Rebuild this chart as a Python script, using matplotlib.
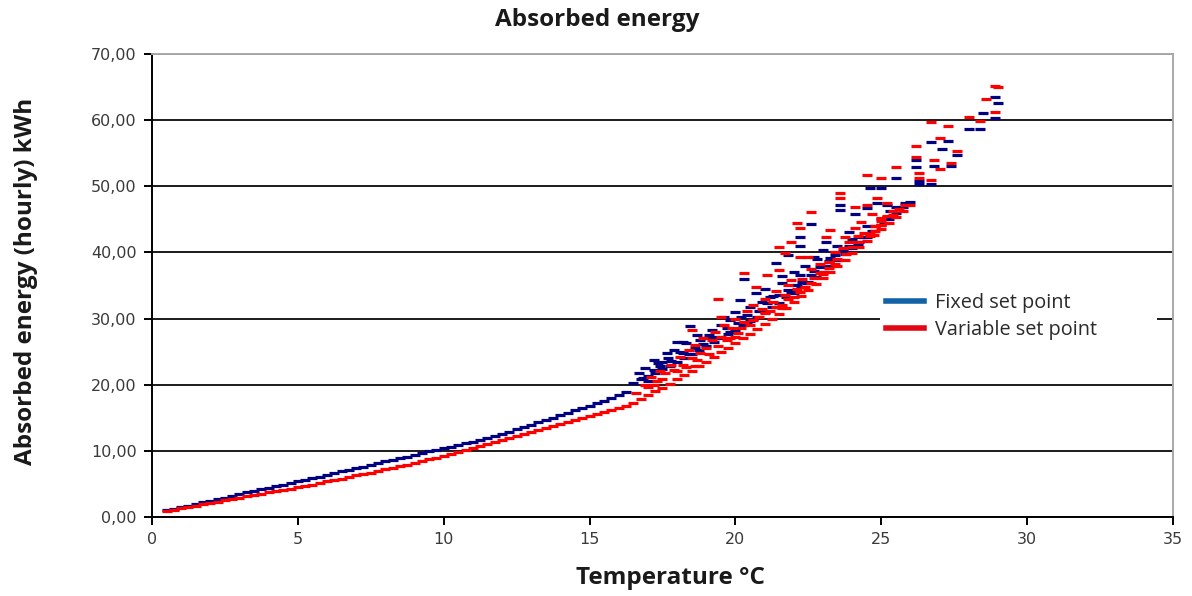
# -*- coding: utf-8 -*-

import matplotlib
matplotlib.use('Agg')
import matplotlib.pyplot as plt
from matplotlib.lines import Line2D
from matplotlib.ticker import FuncFormatter, MultipleLocator

# ---- data (temperature in °C, energy in kWh) ----

# lower smooth part, fixed set point
fixed_low_t = [0.5, 0.75, 1.0, 1.25, 1.5, 1.75, 2.0, 2.25, 2.5, 2.75, 3.0, 3.25, 3.5, 3.75,
               4.0, 4.25, 4.5, 4.75, 5.0, 5.25, 5.5, 5.75, 6.0, 6.25, 6.5, 6.75, 7.0, 7.25,
               7.5, 7.75, 8.0, 8.25, 8.5, 8.75, 9.0, 9.25, 9.5, 9.75, 10.0, 10.25, 10.5, 10.75,
               11.0, 11.25, 11.5, 11.75, 12.0, 12.25, 12.5, 12.75, 13.0, 13.25, 13.5, 13.75,
               14.0, 14.25, 14.5, 14.75, 15.0, 15.25, 15.5, 15.75, 16.0, 16.25]
fixed_low_e = [1.0, 1.2, 1.5, 1.7, 2.0, 2.2, 2.4, 2.7, 2.9, 3.2, 3.4, 3.7, 3.9, 4.2,
               4.4, 4.7, 4.9, 5.2, 5.4, 5.6, 5.9, 6.1, 6.4, 6.6, 6.9, 7.1, 7.4, 7.6,
               7.9, 8.1, 8.4, 8.6, 8.9, 9.1, 9.4, 9.6, 9.9, 10.1, 10.4, 10.6, 10.9, 11.2,
               11.4, 11.7, 12.0, 12.3, 12.6, 12.9, 13.3, 13.6, 13.9, 14.3, 14.6, 15.0,
               15.4, 15.7, 16.1, 16.5, 16.8, 17.2, 17.6, 18.0, 18.4, 18.9]

# lower edge of the steep part, fixed set point
fixed_edge_t = [16.5, 16.75, 17.0, 17.25, 17.5, 17.75, 18.0, 18.25, 18.5, 18.75, 19.0, 19.25,
                19.5, 19.75, 20.0, 20.25, 20.5, 20.75, 21.0, 21.25, 21.5, 21.75, 22.0, 22.25,
                22.5, 22.75, 23.0, 23.25, 23.5, 23.75, 24.0, 24.25, 24.5, 24.75, 25.0, 25.25,
                25.5, 25.75, 26.0]
fixed_edge_e = [20.2, 20.8, 21.3, 21.8, 22.3, 22.8, 23.4, 24.0, 24.6, 25.2, 25.8, 26.4,
                27.0, 27.7, 28.3, 29.0, 29.6, 30.3, 31.0, 31.7, 32.4, 33.2, 33.9, 34.7,
                35.5, 36.3, 37.1, 37.9, 38.8, 39.7, 40.6, 41.5, 42.4, 43.3, 44.2, 45.1,
                46.0, 46.9, 47.6]

# dense band just above the edge, fixed set point
fixed_band_t = [17.4, 17.8, 18.2, 18.4, 18.9, 19.3, 19.7, 20.1, 20.4, 20.8, 21.1, 21.5,
                21.9, 22.3, 22.7, 23.1, 23.4, 23.9, 24.3, 24.8, 25.2]
fixed_band_e = [22.9, 23.6, 24.8, 24.6, 26.2, 27.0, 28.6, 29.4, 30.6, 31.2, 32.4, 33.6,
                34.0, 35.6, 37.2, 38.0, 39.6, 41.0, 42.4, 44.0, 45.4]

# scattered hours, fixed set point
fixed_cloud_t = [16.7, 16.85, 16.9, 17.0, 17.2, 17.2, 17.35, 17.5, 17.65, 17.7, 17.9, 18.0,
                 18.1, 18.2, 18.3, 18.44, 18.6, 18.7, 18.8, 19.0, 19.1, 19.2, 19.4, 19.5,
                 19.6, 19.8, 19.8, 20.0, 20.15, 20.2, 20.3, 20.4, 20.5, 20.6, 20.7, 20.9,
                 21.0, 21.2, 21.3, 21.4, 21.5, 21.6, 21.6, 21.8, 21.8, 22.0, 22.1, 22.2,
                 22.2, 22.2, 22.4, 22.45, 22.6, 22.6, 22.7, 22.8, 22.9, 23.0, 23.1, 23.2,
                 23.25, 23.5, 23.6, 23.6, 23.7, 23.8, 23.9, 24.0, 24.1, 24.2, 24.4, 24.5,
                 24.5, 24.6, 24.7, 24.85, 25.0, 25.0, 25.1, 25.2, 25.3, 25.5, 25.5, 25.8,
                 26.2, 26.2, 26.3, 26.3, 26.7, 26.7, 26.8, 27.1, 27.3, 27.4, 27.6, 28.0,
                 28.4, 28.5, 28.9, 29.0, 28.9]
fixed_cloud_e = [21.8, 21.0, 22.5, 20.5, 22.2, 23.8, 23.3, 23.5, 24.8, 24.0, 25.2, 26.5,
                 25.0, 26.5, 26.3, 28.8, 25.6, 27.5, 26.8, 27.0, 27.5, 28.2, 27.2, 29.0,
                 30.2, 28.0, 29.8, 31.0, 32.8, 30.2, 36.0, 29.5, 31.8, 30.0, 33.8, 32.5,
                 34.5, 33.3, 33.4, 38.4, 31.8, 35.4, 36.5, 39.6, 34.3, 37.0, 35.0, 40.9,
                 42.3, 36.6, 38.0, 35.4, 44.3, 36.6, 39.3, 39.0, 37.8, 40.3, 41.6, 38.7,
                 39.2, 41.0, 47.2, 46.4, 40.2, 40.1, 43.1, 42.0, 45.8, 41.3, 42.3, 44.0,
                 46.7, 49.7, 43.2, 47.5, 49.7, 45.0, 44.5, 47.2, 46.2, 51.2, 46.8, 47.4,
                 54.0, 52.9, 50.3, 50.8, 56.7, 50.4, 53.1, 55.6, 56.8, 53.1, 54.7, 58.7,
                 58.7, 61.1, 63.5, 62.6, 60.3]

# lower smooth part, variable set point
variable_low_t = fixed_low_t
variable_low_e = [0.9, 1.1, 1.3, 1.5, 1.7, 1.9, 2.1, 2.3, 2.5, 2.7, 2.9, 3.1, 3.3, 3.5,
                  3.7, 3.9, 4.1, 4.3, 4.5, 4.7, 4.9, 5.1, 5.4, 5.6, 5.8, 6.0, 6.3, 6.5,
                  6.7, 7.0, 7.2, 7.4, 7.7, 7.9, 8.2, 8.4, 8.7, 8.9, 9.2, 9.5, 9.8, 10.1,
                  10.4, 10.7, 11.0, 11.3, 11.6, 11.9, 12.2, 12.5, 12.8, 13.1, 13.4, 13.7,
                  14.0, 14.3, 14.7, 15.0, 15.3, 15.6, 15.9, 16.2, 16.5, 16.8]

# lower edge of the steep part, variable set point
variable_edge_t = fixed_edge_t
variable_edge_e = [17.3, 17.8, 18.4, 19.0, 19.5, 20.1, 20.8, 21.4, 22.1, 22.8, 23.5, 24.2,
                   24.9, 25.6, 26.3, 27.0, 27.7, 28.4, 29.2, 29.9, 30.7, 31.6, 32.5, 33.4,
                   34.3, 35.2, 36.1, 37.0, 37.9, 38.9, 39.9, 40.8, 41.7, 42.6, 43.5, 44.4,
                   45.3, 46.2, 47.1]

# dense band just above the edge, variable set point
variable_band_t = [17.0, 17.2, 17.5, 18.0, 18.3, 18.6, 18.7, 19.1, 19.4, 19.8, 20.0, 20.2,
                   20.6, 21.0, 21.4, 21.6, 21.8, 22.2, 22.6, 23.0, 23.2, 23.4, 23.8, 24.2,
                   24.6, 24.8, 25.0, 25.4]
variable_band_e = [19.6, 19.9, 20.8, 22.0, 22.6, 22.8, 23.8, 24.6, 25.8, 27.0, 27.2, 28.6,
                   29.8, 30.8, 31.8, 31.6, 33.0, 34.0, 35.4, 36.8, 37.6, 38.2, 39.8, 41.5,
                   42.8, 43.2, 44.2, 45.6]

# scattered hours, variable set point
variable_cloud_t = [16.6, 16.9, 17.1, 17.3, 17.4, 17.6, 17.8, 17.9, 18.1, 18.2, 18.4, 18.5,
                    18.5, 18.6, 18.8, 18.9, 19.0, 19.2, 19.3, 19.4, 19.5, 19.5, 19.6, 19.7,
                    19.9, 20.0, 20.1, 20.3, 20.3, 20.4, 20.5, 20.6, 20.7, 20.8, 20.9, 21.0,
                    21.1, 21.2, 21.3, 21.4, 21.5, 21.5, 21.6, 21.7, 21.7, 21.8, 21.9, 21.9,
                    22.0, 22.1, 22.1, 22.2, 22.2, 22.3, 22.4, 22.5, 22.6, 22.6, 22.7, 22.9,
                    22.9, 23.0, 23.1, 23.2, 23.25, 23.4, 23.5, 23.6, 23.6, 23.7, 23.75, 23.9,
                    24.0, 24.1, 24.1, 24.2, 24.3, 24.4, 24.5, 24.5, 24.6, 24.7, 24.8, 24.85,
                    25.0, 25.0, 25.0, 25.2, 25.2, 25.4, 25.5, 25.6, 25.8,
                    26.2, 26.2, 26.3, 26.3, 26.7, 26.7, 26.8, 27.0, 27.0, 27.3, 27.4, 27.6,
                    28.0, 28.4, 28.6, 28.9, 29.0, 28.9]
variable_cloud_e = [18.8, 20.0, 21.2, 20.5, 22.0, 21.8, 23.0, 22.2, 24.2, 23.0, 25.3, 24.0,
                    28.3, 26.0, 24.8, 27.0, 25.5, 26.8, 28.0, 33.0, 27.2, 30.2, 29.0, 26.8,
                    28.5, 30.0, 27.8, 29.5, 36.9, 31.2, 29.0, 32.0, 34.8, 30.2, 31.5, 33.0,
                    36.6, 31.2, 32.5, 34.2, 40.8, 37.3, 32.0, 33.5, 39.9, 35.0, 41.6, 35.8,
                    33.2, 34.5, 44.5, 43.7, 39.3, 36.0, 34.8, 39.3, 37.5, 46.1, 36.2, 38.3,
                    36.9, 37.0, 42.3, 38.5, 43.4, 40.0, 39.0, 49.0, 48.2, 40.7, 42.3, 41.5,
                    40.8, 46.9, 43.7, 42.5, 44.6, 43.0, 51.7, 47.2, 42.5, 45.8, 44.0, 48.2,
                    44.8, 51.2, 45.2, 45.5, 47.5, 46.3, 52.9, 46.5, 47.2,
                    56.1, 54.5, 52.0, 51.2, 59.7, 51.0, 54.0, 57.3, 52.6, 59.1, 53.5, 55.3,
                    60.5, 59.9, 63.2, 65.2, 65.0, 61.2]

series_labels = ['Fixed set point', 'Variable set point']


def fmt_comma(v, pos):
    return ('%.2f' % v).replace('.', ',')


def main():
    fig = plt.figure(figsize=(11.92, 5.96), dpi=100)
    ax = fig.add_axes([0.1275, 0.1326, 0.8565, 0.7768])

    # dash-shaped markers like the original spreadsheet chart
    mk = dict(marker='_', linestyle='none', markersize=6.5, markeredgewidth=2.3)

    ax.plot(fixed_low_t + fixed_edge_t + fixed_band_t + fixed_cloud_t,
            fixed_low_e + fixed_edge_e + fixed_band_e + fixed_cloud_e,
            color='#000080', zorder=3, **mk)
    ax.plot(variable_low_t + variable_edge_t + variable_band_t + variable_cloud_t,
            variable_low_e + variable_edge_e + variable_band_e + variable_cloud_e,
            color='#ff0000', zorder=4, **mk)

    ax.set_xlim(0, 35)
    ax.set_ylim(0, 70)
    ax.xaxis.set_major_locator(MultipleLocator(5))
    ax.yaxis.set_major_locator(MultipleLocator(10))
    ax.yaxis.set_major_formatter(FuncFormatter(fmt_comma))

    ax.grid(axis='y', color='#1a1a1a', linewidth=1.4, zorder=1)
    ax.set_axisbelow(True)

    for side in ['left', 'bottom']:
        ax.spines[side].set_color('black')
        ax.spines[side].set_linewidth(1.4)
    for side in ['top', 'right']:
        ax.spines[side].set_color('#a8a8a8')
        ax.spines[side].set_linewidth(1.4)

    ax.tick_params(direction='out', length=6, width=1.4, color='black',
                   labelsize=11.5, labelcolor='#3a3a3a', pad=5)

    lab_font = dict(family=['Open Sans', 'DejaVu Sans'], fontweight='bold', color='#1a1a1a')
    title = ax.set_title('Absorbed energy', fontsize=17.5, x=0.436, y=1.073, pad=0, **lab_font)
    title.set_va('center')
    ax.set_xlabel('Temperature °C', fontsize=17.5, va='center', **lab_font)
    ax.xaxis.set_label_coords(0.508, -0.132)
    ax.set_ylabel('Absorbed energy (hourly) kWh', fontsize=17.5, va='center', **lab_font)
    ax.yaxis.set_label_coords(-0.1235, 0.508)

    handles = [Line2D([0], [0], color='#1262a6', linewidth=4),
               Line2D([0], [0], color='#e30613', linewidth=4)]
    leg = ax.legend(handles, series_labels, loc='center left',
                    bbox_to_anchor=(0.713, 0.434, 0.271, 0), mode='expand',
                    borderaxespad=0, frameon=True, fancybox=False,
                    edgecolor='none', facecolor='white', framealpha=1,
                    handlelength=1.9, handletextpad=0.55, labelspacing=0.35,
                    borderpad=0.3, prop={'family': ['Open Sans', 'DejaVu Sans'], 'size': 14.3})
    for t in leg.get_texts():
        t.set_color('#2a2a2a')
    leg.set_zorder(5)

    fig.savefig('out.png', dpi=100)


if __name__ == '__main__':
    main()
